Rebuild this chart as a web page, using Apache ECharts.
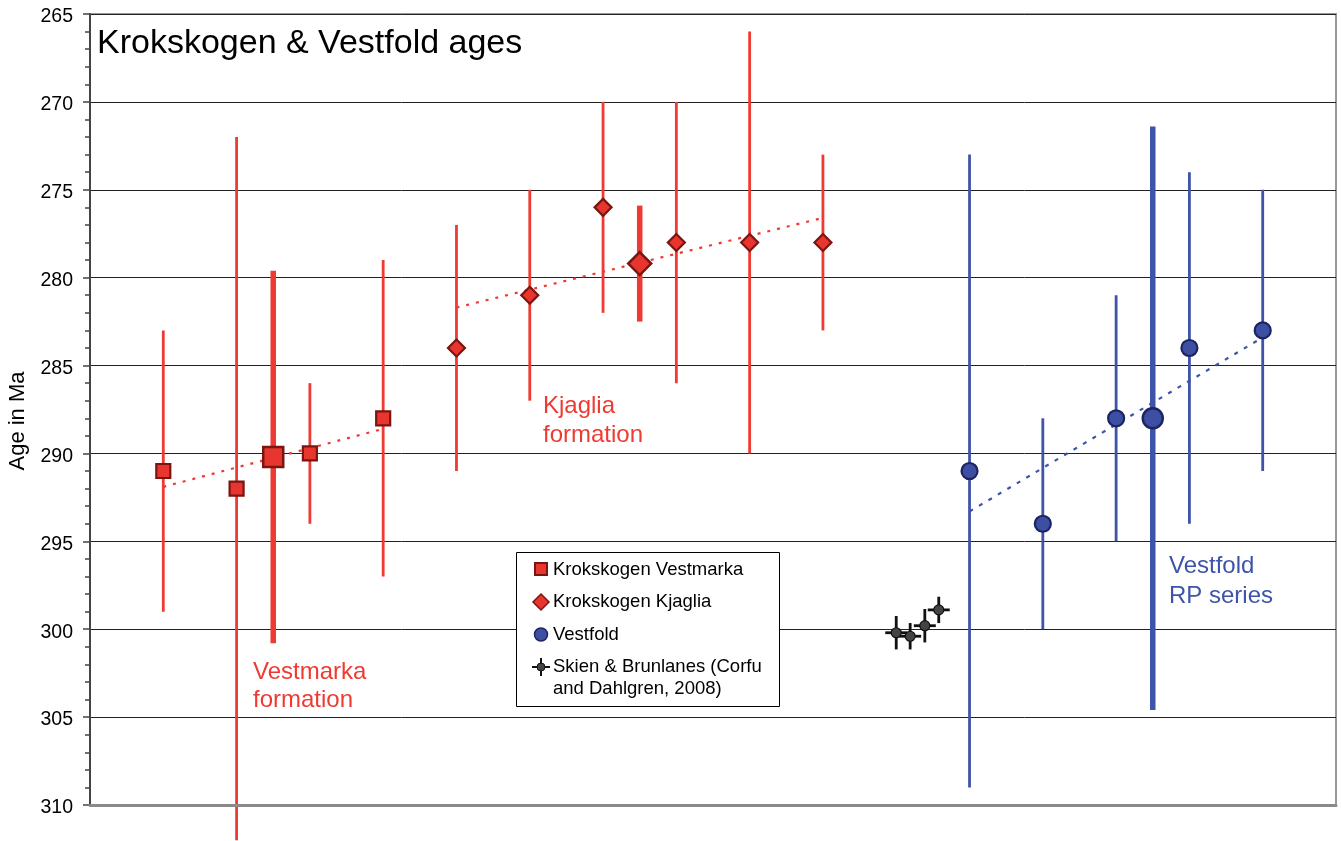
<!DOCTYPE html>
<html>
<head>
<meta charset="utf-8">
<script src="https://cdn.jsdelivr.net/npm/echarts@6/dist/echarts.min.js"></script>
<style>
html,body{margin:0;padding:0;background:#fff;}
#chart{width:1341px;height:841px;}
</style>
</head>
<body>
<div id="chart"></div>
<script>
// ---------- data ----------
const yTicks = [265, 270, 275, 280, 285, 290, 295, 300, 305, 310];

const vestmarkaX   = [1, 2, 3, 4];
const vestmarkaAge = [291, 292, 290, 288];
const vestmarkaErr = [8, 20, 4, 9];
const vestmarkaMeanX   = [2.5];
const vestmarkaMeanAge = [290.2];
const vestmarkaMeanErr = [10.6];
const vestmarkaTrend = [[1, 291.9], [4, 288.6]];

const kjagliaX   = [5, 6, 7, 8, 9, 10];
const kjagliaAge = [284, 281, 276, 278, 278, 278];
const kjagliaErr = [7, 6, 6, 8, 12, 5];
const kjagliaMeanX   = [7.5];
const kjagliaMeanAge = [279.2];
const kjagliaMeanErr = [3.3];
const kjagliaTrend = [[5, 281.7], [10, 276.6]];

const vestfoldX   = [12, 13, 14, 15, 16];
const vestfoldAge = [291, 294, 288, 284, 283];
const vestfoldErr = [18, 6, 7, 10, 8];
const vestfoldMeanX   = [14.5];
const vestfoldMeanAge = [288];
const vestfoldMeanErr = [16.6];
const vestfoldTrend = [[12, 293.3], [16, 283.4]];

const skienX    = [11.0, 11.19, 11.39, 11.58];
const skienAge  = [300.2, 300.4, 299.8, 298.9];
const skienErr  = [0.95, 0.75, 0.95, 0.75];
const skienXErr = [0.15, 0.15, 0.15, 0.15];

const legendNames = ['Krokskogen Vestmarka', 'Krokskogen Kjaglia', 'Vestfold', 'Skien & Brunlanes (Corfu', 'and Dahlgren, 2008)'];

// ---------- styles ----------
const FONT = 'Liberation Sans, Arial, Helvetica, sans-serif';
const RED = '#EF3A33', RED_FILL = '#E8352D', RED_DARK = '#7A1512';
const BLUE = '#3E54A8', BLUE_FILL = '#3C4FA3', BLUE_DARK = '#1E2462';
const BLACK = '#111111';

function zip(xs, ys, es, xes) {
  return xs.map((x, i) => xes ? [x, ys[i], es[i], xes[i]] : [x, ys[i], es[i]]);
}
function pts(xs, ys) { return xs.map((x, i) => [x, ys[i]]); }

function errSeries(data, color, width, z) {
  return {
    type: 'custom',
    z: z || 2,
    silent: true,
    clip: false,
    data: data,
    encode: { x: 0, y: 1 },
    renderItem: function (params, api) {
      const x = api.value(0), y = api.value(1), e = api.value(2);
      const p1 = api.coord([x, y - e]), p2 = api.coord([x, y + e]);
      const children = [{
        type: 'line',
        shape: { x1: p1[0], y1: p1[1], x2: p2[0], y2: p2[1] },
        style: { stroke: color, lineWidth: width }
      }];
      const xe = api.value(3);
      if (xe && !isNaN(xe)) {
        const q1 = api.coord([x - xe, y]), q2 = api.coord([x + xe, y]);
        children.push({
          type: 'line',
          shape: { x1: q1[0], y1: q1[1], x2: q2[0], y2: q2[1] },
          style: { stroke: color, lineWidth: width }
        });
      }
      return { type: 'group', children: children };
    }
  };
}
function scatterSeries(data, symbol, size, fill, border, bw) {
  return {
    type: 'scatter', z: 5, silent: true,
    symbol: symbol, symbolSize: size,
    itemStyle: { color: fill, borderColor: border, borderWidth: bw, opacity: 1 },
    data: data
  };
}
function trendSeries(data, color, dash) {
  return {
    type: 'line', z: 3, silent: true, showSymbol: false,
    lineStyle: { color: color, width: 2.2, type: dash },
    data: data
  };
}

const chart = echarts.init(document.getElementById('chart'), null, { renderer: 'canvas' });

const legendX = 516, legendY = 552;
const option = {
  animation: false,
  backgroundColor: '#ffffff',
  grid: { left: 90, right: 5, top: 14, bottom: 36, show: true, borderColor: '#999999', borderWidth: 2, backgroundColor: 'transparent' },
  xAxis: {
    type: 'value', min: 0, max: 17, position: 'bottom', z: 10,
    axisLine: { show: true, onZero: false, lineStyle: { color: '#8a8a8a', width: 3 } },
    axisTick: { show: false }, axisLabel: { show: false }, splitLine: { show: false }
  },
  yAxis: {
    type: 'value', inverse: true, min: yTicks[0], max: yTicks[yTicks.length - 1], interval: 5,
    axisLine: { show: true, lineStyle: { color: '#444', width: 2 } },
    axisTick: { show: true, length: 7, lineStyle: { color: '#444', width: 1.5 } },
    minorTick: { show: true, splitNumber: 5, length: 5, lineStyle: { color: '#444', width: 1.5 } },
    axisLabel: { color: '#000', fontSize: 19.5, fontFamily: FONT, margin: 17, verticalAlign: 'top', lineHeight: 6 },
    splitLine: { show: true, lineStyle: { color: '#222', width: 1 } }
  },
  series: [
    // error bars
    errSeries(zip(vestmarkaX, vestmarkaAge, vestmarkaErr), RED, 2.8),
    errSeries(zip(vestmarkaMeanX, vestmarkaMeanAge, vestmarkaMeanErr), RED, 5.5),
    errSeries(zip(kjagliaX, kjagliaAge, kjagliaErr), RED, 2.8),
    errSeries(zip(kjagliaMeanX, kjagliaMeanAge, kjagliaMeanErr), RED, 5.5),
    errSeries(zip(vestfoldX, vestfoldAge, vestfoldErr), BLUE, 2.8),
    errSeries(zip(vestfoldMeanX, vestfoldMeanAge, vestfoldMeanErr), BLUE, 5.5),
    errSeries(zip(skienX, skienAge, skienErr, skienXErr), BLACK, 2.8),
    // trend lines
    trendSeries(vestmarkaTrend, RED, [3, 7]),
    trendSeries(kjagliaTrend, RED, [3, 7]),
    trendSeries(vestfoldTrend, BLUE, [4, 7]),
    // markers
    scatterSeries(pts(vestmarkaX, vestmarkaAge), 'rect', 14, RED_FILL, RED_DARK, 2.2),
    scatterSeries(pts(vestmarkaMeanX, vestmarkaMeanAge), 'rect', 20, RED_FILL, RED_DARK, 2.5),
    scatterSeries(pts(kjagliaX, kjagliaAge), 'diamond', 17, RED_FILL, RED_DARK, 2.2),
    scatterSeries(pts(kjagliaMeanX, kjagliaMeanAge), 'diamond', 23, RED_FILL, RED_DARK, 2.5),
    scatterSeries(pts(vestfoldX, vestfoldAge), 'circle', 16, BLUE_FILL, BLUE_DARK, 2.2),
    scatterSeries(pts(vestfoldMeanX, vestfoldMeanAge), 'circle', 20, BLUE_FILL, BLUE_DARK, 2.5),
    scatterSeries(pts(skienX, skienAge), 'circle', 10, '#444', BLACK, 1.2)
  ],
  graphic: [
    { type: 'text', x: 97, y: 44, z: 100, style: { text: 'Krokskogen & Vestfold ages', fill: '#000', font: '34px ' + FONT, align: 'left', verticalAlign: 'middle' } },
    { type: 'text', x: 17.5, y: 421, rotation: Math.PI / 2, z: 100, style: { text: 'Age in Ma', fill: '#000', font: '22px ' + FONT, align: 'center', verticalAlign: 'middle' } },
    { type: 'text', x: 543, y: 420.5, z: 100, style: { text: 'Kjaglia\nformation', fill: RED, font: '24px ' + FONT, lineHeight: 29, align: 'left', verticalAlign: 'middle' } },
    { type: 'text', x: 253, y: 686.5, z: 100, style: { text: 'Vestmarka\nformation', fill: RED, font: '24px ' + FONT, lineHeight: 28, align: 'left', verticalAlign: 'middle' } },
    { type: 'text', x: 1169, y: 581.5, z: 100, style: { text: 'Vestfold\nRP series', fill: BLUE, font: '24px ' + FONT, lineHeight: 30, align: 'left', verticalAlign: 'middle' } },
    // legend box
    { type: 'rect', z: 100, shape: { x: legendX + 0.5, y: legendY + 0.5, width: 263, height: 154 }, style: { fill: '#fff', stroke: '#000', lineWidth: 1 } },
    { type: 'rect', z: 101, shape: { x: 535, y: 563, width: 12, height: 12 }, style: { fill: RED_FILL, stroke: RED_DARK, lineWidth: 2 } },
    { type: 'polygon', z: 101, shape: { points: [[541, 594], [549, 602], [541, 610], [533, 602]] }, style: { fill: RED_FILL, stroke: RED_DARK, lineWidth: 1.5 } },
    { type: 'circle', z: 101, shape: { cx: 541, cy: 634.5, r: 6.5 }, style: { fill: BLUE_FILL, stroke: BLUE_DARK, lineWidth: 1.5 } },
    { type: 'line', z: 101, shape: { x1: 532, y1: 667, x2: 550, y2: 667 }, style: { stroke: BLACK, lineWidth: 2 } },
    { type: 'line', z: 101, shape: { x1: 541, y1: 658, x2: 541, y2: 676 }, style: { stroke: BLACK, lineWidth: 2 } },
    { type: 'circle', z: 102, shape: { cx: 541, cy: 667, r: 4 }, style: { fill: '#444', stroke: BLACK, lineWidth: 1 } },
    { type: 'text', z: 101, x: 553, y: 569.5, style: { text: legendNames[0], fill: '#000', font: '18.5px ' + FONT, verticalAlign: 'middle' } },
    { type: 'text', z: 101, x: 553, y: 602, style: { text: legendNames[1], fill: '#000', font: '18.5px ' + FONT, verticalAlign: 'middle' } },
    { type: 'text', z: 101, x: 553, y: 634.5, style: { text: legendNames[2], fill: '#000', font: '18.5px ' + FONT, verticalAlign: 'middle' } },
    { type: 'text', z: 101, x: 553, y: 667, style: { text: legendNames[3], fill: '#000', font: '18.5px ' + FONT, verticalAlign: 'middle' } },
    { type: 'text', z: 101, x: 553, y: 689, style: { text: legendNames[4], fill: '#000', font: '18.5px ' + FONT, verticalAlign: 'middle' } }
  ]
};
chart.setOption(option);
</script>
</body>
</html>
